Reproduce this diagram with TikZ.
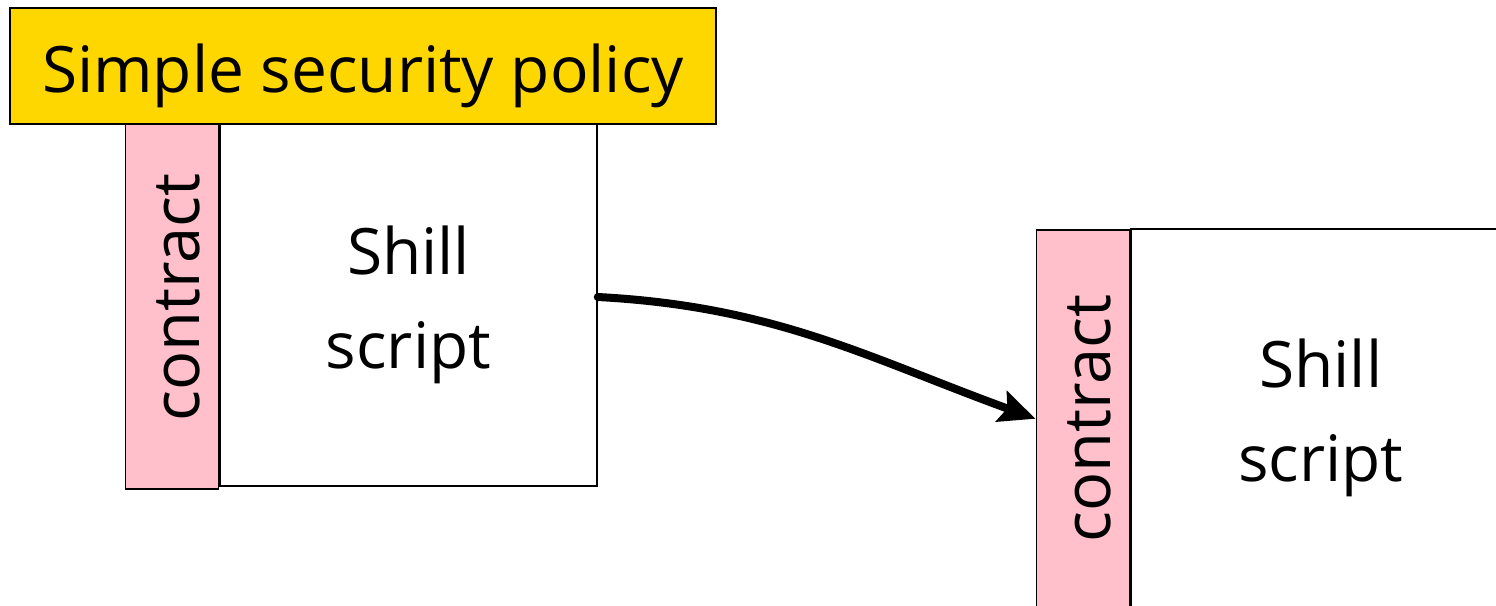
\documentclass[tikz,border=0pt]{standalone}
\usepackage{fontspec}
\setmainfont{Open Sans}
\usetikzlibrary{positioning,arrows.meta}
\definecolor{policyyellow}{HTML}{FFD700}
\definecolor{contractpink}{HTML}{FFC0CB}

\begin{document}
\begin{tikzpicture}[x=1pt,y=-1pt,>={Stealth[length=36pt,width=32pt,inset=6pt]},line cap=round,
    scriptbox/.style={draw,line width=1.5pt,fill=white,inner sep=0pt,align=center,
        font=\fontsize{64}{94}\selectfont},
    contractbar/.style={draw,line width=1.5pt,fill=contractpink,inner sep=0pt,minimum width=93pt},
    contractlabel/.style={rotate=90,inner sep=0pt,text height=55pt,text depth=0pt,
        font=\fontsize{65}{70}\selectfont}]
    \useasboundingbox (0,0) rectangle (1496,605);
    % left: script that carries the policy
    \node[scriptbox,minimum width=377pt,minimum height=362pt] (lscript) at (408.5,305) {Shill\\script};
    \node[contractbar,minimum height=365pt,anchor=north east] (lcontract) at (lscript.north west) {};
    \node[contractlabel] (lcontractlabel) at ([yshift=9pt]lcontract.center) {contract};
    \node[draw,line width=1.5pt,fill=policyyellow,minimum width=706pt,minimum height=116pt,inner sep=0pt,
        text height=52pt,text depth=0pt,font=\fontsize{64}{70}\selectfont] (policy) at (363,66) {Simple security policy};
    % right: the script it calls
    \node[scriptbox,minimum width=380pt,minimum height=378pt,anchor=north west] (rscript) at (1130,228) {Shill\\script};
    \node[contractbar,minimum height=378pt,anchor=north east] (rcontract) at ([yshift=-1pt]rscript.north west) {};
    \node[contractlabel] (rcontractlabel) at (rcontract) {contract};
    \draw[->,line width=8pt] ([yshift=8pt]lscript.east) to[out=-3,in=160] (rcontract.west);
\end{tikzpicture}
\end{document}
